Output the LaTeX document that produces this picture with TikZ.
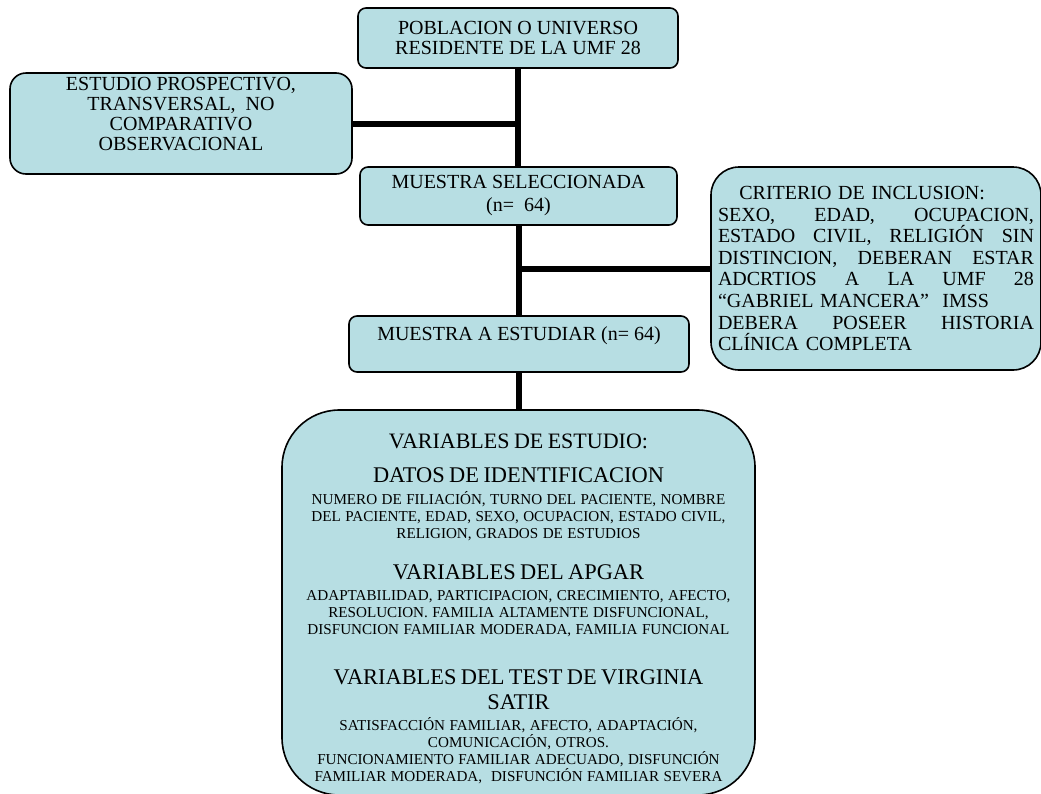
\documentclass[tikz,border=0pt]{standalone}
\usepackage{fontspec}
\setmainfont{Liberation Serif}
\definecolor{boxfill}{RGB}{183,222,227}
\newcommand{\jline}[1]{\leavevmode\hbox to \hsize{#1}}
\begin{document}
\begin{tikzpicture}[x=0.75pt,y=-0.75pt,
  box/.style={draw=black, line width=1.2pt, fill=boxfill, align=center, inner sep=0pt},
  conn/.style={line width=4.5pt, line cap=butt}]
\useasboundingbox (0,0) rectangle (1041,793);

\node[box, rounded corners=6pt, minimum width=240pt, minimum height=45pt,
      font=\fontsize{15}{14.5}\selectfont] (pob) at (518,38)
      {POBLACION O UNIVERSO\\RESIDENTE DE LA UMF 28};

\node[box, rounded corners=12pt, minimum width=256.5pt, minimum height=75.75pt,
      font=\fontsize{15}{15}\selectfont] (est) at (181,123.5)
      {ESTUDIO PROSPECTIVO,\\TRANSVERSAL,\ \ NO\\COMPARATIVO\\OBSERVACIONAL\rule[-13.7pt]{0pt}{0pt}};

\node[box, rounded corners=6pt, minimum width=237.75pt, minimum height=43.5pt,
      font=\fontsize{15}{17.25}\selectfont] (sel) at (518.5,196)
      {MUESTRA SELECCIONADA\\(n=\ \ 64)};

\node[box, rounded corners=21pt, minimum width=247.5pt, minimum height=152.25pt,
      text width=237pt, align=left,
      font=\fontsize{15}{16.2}\selectfont] (crit) at (876,268.5)
      {\hspace*{16pt}CRITERIO DE INCLUSION:\\
       \jline{SEXO,\hfill EDAD,\hfill OCUPACION,}\\
       \jline{ESTADO\hfill CIVIL,\hfill RELIGIÓN\hfill SIN}\\
       \jline{DISTINCION,\hfill DEBERAN\hfill ESTAR}\\
       \jline{ADCRTIOS\hfill A\hfill LA\hfill UMF\hfill 28}\\
       “GABRIEL MANCERA”\ \ IMSS\\
       \jline{DEBERA\hfill POSEER\hfill HISTORIA}\\
       CLÍNICA COMPLETA};

\node[box, rounded corners=6pt, minimum width=255pt, text height=18pt, text depth=24pt,
      font=\fontsize{15}{17}\selectfont] (mae) at (519,344)
      {MUESTRA A ESTUDIAR (n= 64)};

\node[box, rounded corners=43pt, minimum width=354.75pt, minimum height=288.75pt,
      text width=345pt, inner xsep=4.875pt] (var) at (518.5,602.5)
      {{\fontsize{16.5}{18}\selectfont\rule{0pt}{20.2pt}VARIABLES DE ESTUDIO:\par}
       {\fontsize{16.8}{26}\selectfont DATOS DE IDENTIFICACION\par}
       \vspace{3.25pt}
       {\fontsize{11.35}{12.75}\selectfont NUMERO DE FILIACIÓN, TURNO DEL PACIENTE, NOMBRE\\
        DEL PACIENTE, EDAD, SEXO, OCUPACION, ESTADO CIVIL,\\
        RELIGION, GRADOS DE ESTUDIOS\par}
       \vspace{8.25pt}
       {\fontsize{16.8}{22.5}\selectfont VARIABLES DEL APGAR\par}
       \vspace{3pt}
       {\fontsize{11.35}{12.75}\selectfont ADAPTABILIDAD, PARTICIPACION, CRECIMIENTO, AFECTO,\\
        RESOLUCION. FAMILIA ALTAMENTE DISFUNCIONAL,\\
        DISFUNCION FAMILIAR MODERADA, FAMILIA FUNCIONAL\par}
       \vspace{18.75pt}
       {\fontsize{16.8}{18.75}\selectfont VARIABLES DEL TEST DE VIRGINIA\\
        SATIR\par}
       \vspace{3pt}
       {\fontsize{11.35}{12.75}\selectfont SATISFACCIÓN FAMILIAR, AFECTO, ADAPTACIÓN,\\
        COMUNICACIÓN, OTROS.\\
        FUNCIONAMIENTO FAMILIAR ADECUADO, DISFUNCIÓN\\
        FAMILIAR MODERADA,\ \ DISFUNCIÓN FAMILIAR SEVERA\par}};

\draw[conn] (pob.south) -- (pob.south |- sel.north);
\draw[conn] (est.east) -- (est.east -| pob.south);
\draw[conn] (sel.south) -- (sel.south |- mae.north);
\draw[conn] (crit.west -| sel.south) -- (crit.west);
\draw[conn] (mae.south -| sel.south) -- (sel.south |- var.north);
\end{tikzpicture}
\end{document}
